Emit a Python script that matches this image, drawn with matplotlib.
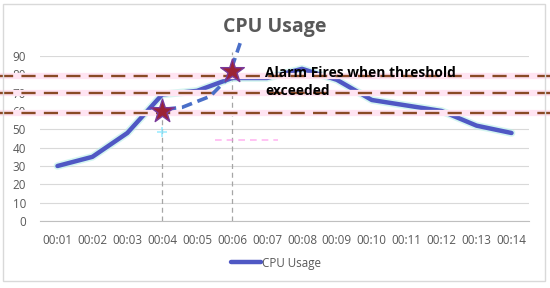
import matplotlib.pyplot as plt
from matplotlib.patches import Rectangle

times = ['00:01', '00:02', '00:03', '00:04', '00:05', '00:06', '00:07',
         '00:08', '00:09', '00:10', '00:11', '00:12', '00:13', '00:14']
cpu = [30, 35, 48, 69, 71, 78, 78, 83, 77, 66, 63, 60, 52, 48]

thresholds = [79, 70, 59]

# alarm points (category index, value)
alarm_x = [3, 5]
alarm_y = [60, 82]

# hand-drawn dashed trend (category index, value)
trend_x = [3.09, 3.57, 4.37, 4.89, 5.23]
trend_y = [61, 62, 68, 78, 97]

plt.rcParams['font.family'] = ['Open Sans', 'DejaVu Sans']
gray_txt = '#595959'

fig = plt.figure(figsize=(5.5, 2.88), dpi=100)
fig.patches.append(Rectangle((3 / 550, 1 - 281 / 288), 542 / 550, 277 / 288,
                             transform=fig.transFigure, facecolor='none',
                             edgecolor='#d9d9d9', lw=1, zorder=0))
ax = fig.add_axes([40 / 550, 1 - 221 / 288, 489 / 550, 165 / 288])
ax.set_facecolor('none')

x = list(range(len(times)))
ax.set_xlim(-0.5, len(times) - 0.5)
ax.set_ylim(0, 90)
ax.set_yticks(range(0, 91, 10))
ax.set_xticks(x)
ax.set_xticklabels(times)
ax.tick_params(length=0, labelsize=8.4, colors=gray_txt, pad=9)
ax.tick_params(axis='y', pad=10)
ax.grid(axis='y', color='#d9d9d9', lw=0.8)
ax.set_axisbelow(True)
for s in ['top', 'right', 'left']:
    ax.spines[s].set_visible(False)
ax.spines['bottom'].set_color('#bfbfbf')

# vertical guide lines at alarm points
ax.vlines(alarm_x[0], 0, alarm_y[0], colors='#a6a6a6', linestyles=(0, (4, 3)), lw=0.9)
ax.vlines(alarm_x[1], 0, 92, colors='#a6a6a6', linestyles=(0, (4, 3)), lw=0.9, clip_on=False)

# faint pink leftovers
ax.plot([4.5, 6.3], [44, 44], color='#ff88e8', lw=1.2, ls=(0, (4, 3)), alpha=0.6)
ax.plot([alarm_x[0]], [48.5], marker='+', color='#88e8ff', ms=7, mew=1.2, alpha=0.8)

# main series with a soft glow
ax.plot(x, cpu, color='#b8f0e8', lw=5.5, solid_capstyle='round', alpha=0.6)
ax.plot(x, cpu, color='#4f58c4', lw=3.2, solid_capstyle='round', label='CPU Usage')

# threshold lines spanning the whole picture
for t in thresholds:
    ax.axhline(t, xmin=-0.09, xmax=1.05, color='#ffe4f2', lw=4.5, clip_on=False, zorder=3)
    ax.axhline(t, xmin=-0.09, xmax=1.05, color='#8a4a26', lw=1.7,
               ls=(0, (6, 3.5)), clip_on=False, zorder=4)

ax.plot(trend_x, trend_y, color='#4a6fc8', lw=2.6, ls=(0, (3, 1.6)), clip_on=False, zorder=5)
ax.scatter(alarm_x, alarm_y, marker='*', s=320, color='#9b2335', edgecolors='#7a3a9a',
           linewidths=1, zorder=6, clip_on=False)

ax.text(5.95, 75.8, 'Alarm Fires when threshold\nexceeded', fontsize=9.9, fontweight='bold',
        color='black', va='center', ha='left', linespacing=1.4, zorder=7)

fig.text(0.5, 1 - 27 / 288, 'CPU Usage', ha='center', va='center', fontsize=14,
         fontweight='bold', color=gray_txt)

leg = ax.legend(loc='center', bbox_to_anchor=(276 / 550, 1 - 263 / 288),
                bbox_transform=fig.transFigure, frameon=False, fontsize=8.4,
                handlelength=2.6, handletextpad=0.1)
for t in leg.get_texts():
    t.set_color(gray_txt)

fig.savefig('out.png', dpi=100)
